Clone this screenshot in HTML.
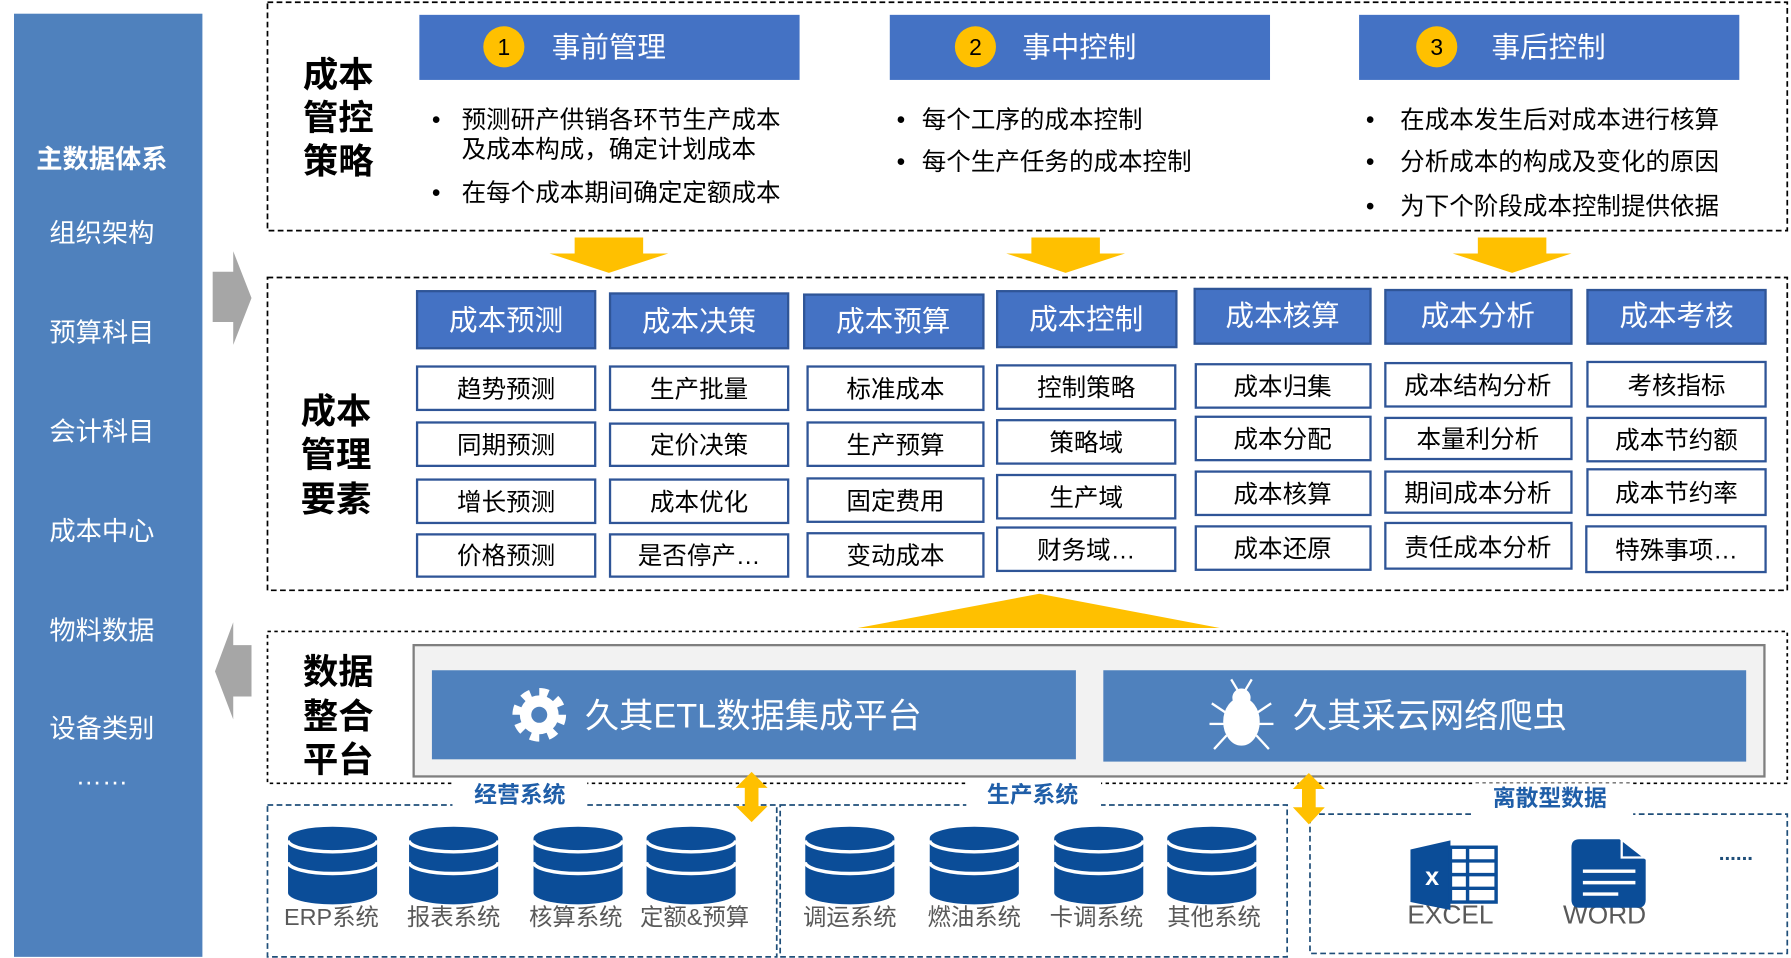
<!DOCTYPE html>
<html><head><meta charset="utf-8"><style>
html,body{margin:0;padding:0;background:#fff;}
svg{display:block;}
text{font-family:"Liberation Sans","Noto Sans CJK SC",sans-serif;}
</style></head><body>
<svg width="1791" height="958" viewBox="0 0 1568 839" xmlns="http://www.w3.org/2000/svg">
<defs>
<g id="db">
<path d="M0,10 A39,10 0 0 1 78,10 V58 A39,10 0 0 1 0,58 Z" fill="#0b4d98"/>
<path d="M0,12 A39,10 0 0 0 78,12" fill="none" stroke="#fff" stroke-width="3"/>
<path d="M0,31 A39,10 0 0 0 78,31" fill="none" stroke="#fff" stroke-width="3"/>
</g>
</defs>

<!-- left panel -->
<rect x="12" y="12" width="165" height="826" fill="#4f81bd"/>
<g fill="#fff" font-size="23" text-anchor="middle">
<text x="89" y="147" font-weight="bold">主数据体系</text>
<text x="89" y="212">组织架构</text>
<text x="89" y="299">预算科目</text>
<text x="89" y="386">会计科目</text>
<text x="89" y="473">成本中心</text>
<text x="89" y="560">物料数据</text>
<text x="89" y="646">设备类别</text>
<text x="89" y="687">……</text>
</g>

<!-- gray arrows -->
<polygon points="186,238 204,238 204,220 220,261 204,302 204,282 186,282" fill="#a6a6a6"/>
<polygon points="220,565 204,565 204,545 188,588 204,630 204,610 220,610" fill="#a6a6a6"/>

<!-- top dashed box -->
<rect x="234" y="2" width="1331" height="200" fill="none" stroke="#000" stroke-width="1.5" stroke-dasharray="5,3"/>
<g font-size="31" font-weight="bold" fill="#000">
<text x="265" y="76">成本</text><text x="265" y="114">管控</text><text x="265" y="152">策略</text>
</g>
<rect x="367" y="13" width="333" height="57" fill="#4472c4"/>
<rect x="779" y="13" width="333" height="57" fill="#4472c4"/>
<rect x="1190" y="13" width="333" height="57" fill="#4472c4"/>
<circle cx="441" cy="41" r="18" fill="#ffc000"/><circle cx="854" cy="41" r="18" fill="#ffc000"/><circle cx="1258" cy="41" r="18" fill="#ffc000"/>
<g font-size="20" text-anchor="middle" fill="#000"><text x="441" y="48">1</text><text x="854" y="48">2</text><text x="1258" y="48">3</text></g>
<g font-size="25" fill="#fff"><text x="483" y="50">事前管理</text><text x="895" y="50">事中控制</text><text x="1306" y="50">事后控制</text></g>
<g font-size="21.5" fill="#000">
<text x="378" y="112">•</text><text x="404" y="112">预测研产供销各环节生产成本</text>
<text x="404" y="138">及成本构成，确定计划成本</text>
<text x="378" y="176">•</text><text x="404" y="176">在每个成本期间确定定额成本</text>
<text x="785" y="112">•</text><text x="807" y="112">每个工序的成本控制</text>
<text x="785" y="149">•</text><text x="807" y="149">每个生产任务的成本控制</text>
<text x="1196" y="112">•</text><text x="1226" y="112">在成本发生后对成本进行核算</text>
<text x="1196" y="149">•</text><text x="1226" y="149">分析成本的构成及变化的原因</text>
<text x="1196" y="188">•</text><text x="1226" y="188">为下个阶段成本控制提供依据</text>
</g>

<!-- yellow arrows -->
<g fill="#ffc000">
<polygon points="503,208 563,208 563,222 585,222 533,239 481,222 503,222"/>
<polygon points="903,208 963,208 963,222 985,222 933,239 881,222 903,222"/>
<polygon points="1294,208 1354,208 1354,222 1376,222 1324,239 1272,222 1294,222"/>
<polygon points="751,550 910,520 1068,550"/>
</g>

<!-- middle box -->
<rect x="234" y="243" width="1331" height="274" fill="none" stroke="#000" stroke-width="1.5" stroke-dasharray="5,3"/>
<g font-size="31" font-weight="bold" fill="#000">
<text x="263" y="371">成本</text><text x="263" y="409">管理</text><text x="263" y="448">要素</text>
</g>
<g fill="#4472c4" stroke="#2f5597" stroke-width="2">
<rect x="365" y="255" width="156" height="50"/>
<rect x="534" y="257" width="156" height="48"/>
<rect x="704" y="258" width="157" height="47"/>
<rect x="873" y="255" width="157" height="49"/>
<rect x="1046" y="253" width="154" height="48"/>
<rect x="1213" y="254" width="163" height="47"/>
<rect x="1390" y="254" width="156" height="47"/>
</g>
<g font-size="25" fill="#fff" text-anchor="middle">
<text x="443" y="289">成本预测</text><text x="612" y="290">成本决策</text><text x="782" y="290">成本预算</text>
<text x="951" y="288">成本控制</text><text x="1123" y="285">成本核算</text><text x="1294" y="285">成本分析</text><text x="1468" y="285">成本考核</text>
</g>
<g fill="#fff" stroke="#2f5597" stroke-width="2">
<rect x="365" y="321" width="156" height="38"/><rect x="365" y="370" width="156" height="38"/><rect x="365" y="420" width="156" height="38"/><rect x="365" y="468" width="156" height="37"/>
<rect x="534" y="321" width="156" height="38"/><rect x="534" y="371" width="156" height="37"/><rect x="534" y="420" width="156" height="38"/><rect x="534" y="468" width="156" height="37"/>
<rect x="707" y="321" width="154" height="38"/><rect x="707" y="370" width="154" height="38"/><rect x="707" y="419" width="154" height="38"/><rect x="707" y="467" width="154" height="38"/>
<rect x="873" y="320" width="156" height="38"/><rect x="873" y="368" width="156" height="38"/><rect x="873" y="416" width="156" height="38"/><rect x="873" y="462" width="156" height="38"/>
<rect x="1047" y="319" width="153" height="38"/><rect x="1047" y="365" width="153" height="38"/><rect x="1047" y="413" width="153" height="38"/><rect x="1047" y="461" width="153" height="38"/>
<rect x="1213" y="318" width="163" height="38"/><rect x="1213" y="366" width="163" height="36"/><rect x="1213" y="413" width="163" height="36"/><rect x="1213" y="458" width="163" height="40"/>
<rect x="1390" y="317" width="156" height="39"/><rect x="1390" y="366" width="156" height="38"/><rect x="1390" y="411" width="156" height="40"/><rect x="1389" y="461" width="157" height="40"/>
</g>
<g font-size="21.5" fill="#000" text-anchor="middle">
<text x="443" y="348">趋势预测</text><text x="443" y="397">同期预测</text><text x="443" y="447">增长预测</text><text x="443" y="494">价格预测</text>
<text x="612" y="348">生产批量</text><text x="612" y="397">定价决策</text><text x="612" y="447">成本优化</text><text x="612" y="494">是否停产…</text>
<text x="784" y="348">标准成本</text><text x="784" y="397">生产预算</text><text x="784" y="446">固定费用</text><text x="784" y="494">变动成本</text>
<text x="951" y="347">控制策略</text><text x="951" y="395">策略域</text><text x="951" y="443">生产域</text><text x="951" y="489">财务域…</text>
<text x="1123" y="346">成本归集</text><text x="1123" y="392">成本分配</text><text x="1123" y="440">成本核算</text><text x="1123" y="488">成本还原</text>
<text x="1294" y="345">成本结构分析</text><text x="1294" y="392">本量利分析</text><text x="1294" y="439">期间成本分析</text><text x="1294" y="487">责任成本分析</text>
<text x="1468" y="345">考核指标</text><text x="1468" y="393">成本节约额</text><text x="1468" y="439">成本节约率</text><text x="1468" y="489">特殊事项…</text>
</g>

<!-- data platform -->
<rect x="234" y="553" width="1331" height="133" fill="none" stroke="#000" stroke-width="1.5" stroke-dasharray="3,3"/>
<g font-size="31" font-weight="bold" fill="#000">
<text x="265" y="599">数据</text><text x="265" y="638">整合</text><text x="265" y="676">平台</text>
</g>
<rect x="362" y="565" width="1183" height="115" fill="#f2f2f2" stroke="#7f7f7f" stroke-width="2"/>
<rect x="378" y="587" width="564" height="78" fill="#4f81bd"/>
<rect x="966" y="587" width="563" height="80" fill="#4f81bd"/>
<g font-size="30" fill="#fff"><text x="512" y="637">久其ETL数据集成平台</text><text x="1132" y="637">久其采云网络爬虫</text></g>
<g transform="translate(472,626)">
<circle r="19" fill="none" stroke="#fff" stroke-width="9" stroke-dasharray="7.5,7.4"/>
<circle r="17" fill="#fff"/><circle r="7" fill="#4f81bd"/>
</g>
<g transform="translate(1087,628)" stroke="#fff" stroke-width="2" fill="#fff">
<ellipse cx="0" cy="4" rx="15" ry="20"/><circle cx="0" cy="-17" r="7"/>
<line x1="-14" y1="-4" x2="-26" y2="-12"/><line x1="14" y1="-4" x2="26" y2="-12"/>
<line x1="-15" y1="6" x2="-28" y2="6"/><line x1="15" y1="6" x2="28" y2="6"/>
<line x1="-13" y1="16" x2="-24" y2="28"/><line x1="13" y1="16" x2="24" y2="28"/>
<line x1="-3" y1="-23" x2="-9" y2="-33"/><line x1="3" y1="-23" x2="9" y2="-33"/>
</g>

<!-- bottom boxes -->
<g fill="none" stroke="#1f4e79" stroke-width="1.5" stroke-dasharray="5,3">
<rect x="234" y="705" width="446" height="133"/>
<rect x="683" y="705" width="444" height="133"/>
<rect x="1147" y="713" width="418" height="122"/>
</g>
<g fill="#fff">
<rect x="396" y="683" width="118" height="30"/><rect x="846" y="683" width="118" height="30"/><rect x="1290" y="686" width="140" height="30"/>
</g>
<g font-size="20" font-weight="bold" fill="#1f5ea8" text-anchor="middle">
<text x="455" y="703">经营系统</text><text x="904" y="703">生产系统</text><text x="1357" y="706">离散型数据</text>
</g>
<g fill="#ffc000">
<polygon points="658,676 672,690 664,690 664,706 672,706 658,720 644,706 652,706 652,690 644,690"/>
<polygon points="1146,677 1160,691 1152,691 1152,707 1160,707 1146,722 1132,707 1140,707 1140,691 1132,691"/>
</g>
<use href="#db" x="252" y="724"/><use href="#db" x="358" y="724"/><use href="#db" x="467" y="724"/><use href="#db" x="566" y="724"/>
<use href="#db" x="705" y="724"/><use href="#db" x="814" y="724"/><use href="#db" x="923" y="724"/><use href="#db" x="1022" y="724"/>
<g font-size="20.5" fill="#595959" text-anchor="middle">
<text x="290" y="810">ERP系统</text><text x="397" y="810">报表系统</text><text x="504" y="810">核算系统</text><text x="608" y="810">定额&amp;预算</text>
<text x="744" y="810">调运系统</text><text x="853" y="810">燃油系统</text><text x="960" y="810">卡调系统</text><text x="1063" y="810">其他系统</text>
</g>
<g font-size="23" fill="#595959" text-anchor="middle">
<text x="1270" y="809">EXCEL</text><text x="1405" y="809">WORD</text>
</g>
<polygon points="1235,744 1270,736 1270,797 1235,790" fill="#0b4d98"/>
<rect x="1270" y="742" width="40" height="48" fill="none" stroke="#0b4d98" stroke-width="3"/>
<g stroke="#0b4d98" stroke-width="3"><line x1="1285" y1="742" x2="1285" y2="790"/><line x1="1270" y1="754" x2="1310" y2="754"/><line x1="1270" y1="766" x2="1310" y2="766"/><line x1="1270" y1="778" x2="1310" y2="778"/></g>
<text x="1254" y="775" font-size="22" font-weight="bold" fill="#fff" text-anchor="middle">x</text>
<path d="M1383,735 H1418 L1441,753 V788 Q1441,795 1434,795 H1383 Q1376,795 1376,788 V742 Q1376,735 1383,735 Z" fill="#0b4d98"/>
<path d="M1420,735 V751 H1441" fill="none" stroke="#fff" stroke-width="2"/>
<g stroke="#fff" stroke-width="3"><line x1="1386" y1="763" x2="1432" y2="763"/><line x1="1386" y1="773" x2="1432" y2="773"/><line x1="1386" y1="783" x2="1417" y2="783"/></g>
<text x="1520" y="753" font-size="18" fill="#1f4e79" text-anchor="middle" font-weight="bold">......</text>
</svg>
</body></html>
